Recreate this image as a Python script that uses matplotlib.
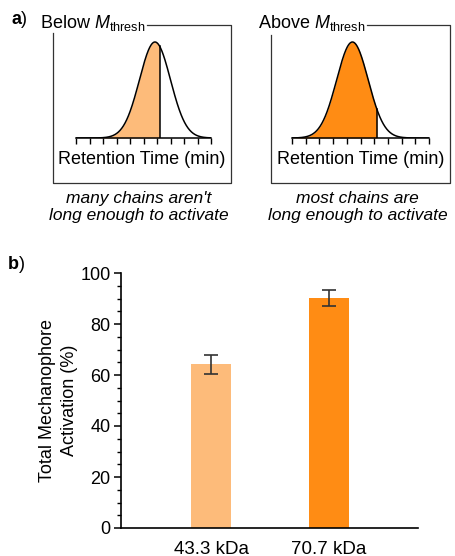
import numpy as np
import matplotlib
matplotlib.use("Agg")
import matplotlib.pyplot as plt
from matplotlib.lines import Line2D

plt.rcParams['font.family'] = ['Liberation Sans', 'DejaVu Sans']
plt.rcParams['mathtext.fontset'] = 'custom'
plt.rcParams['mathtext.rm'] = 'Liberation Sans'
plt.rcParams['mathtext.it'] = 'Liberation Sans:italic'

# schematic GPC traces: peak retention time, width, cutoff at M_thresh
peak_centers = [5.85, 4.41]
peak_widths = [1.15, 1.15]
thresh_time = 6.2
panel_titles = ['Below $M_{\\rm thresh}$', 'Above $M_{\\rm thresh}$']
captions = ["many chains aren't\nlong enough to activate",
            "most chains are\nlong enough to activate"]

# bar chart data
samples = ['43.3 kDa', '70.7 kDa']
activation = [64.2, 90.2]
activation_err = [3.8, 3.0]

light_orange = '#fdbb7a'
dark_orange = '#ff8c14'
fills = [light_orange, dark_orange]

W, H = 455, 556
fig = plt.figure(figsize=(W / 100, H / 100), dpi=100)


def box(x0, y0, x1, y1):
    # pixel rectangle (top-left origin) -> figure fraction
    return [x0 / W, 1 - y1 / H, (x1 - x0) / W, (y1 - y0) / H]


def fline(xs, ys, **kw):
    fig.add_artist(Line2D([x / W for x in xs], [1 - y / H for y in ys],
                          transform=fig.transFigure, **kw))


def ftext(x, y, s, **kw):
    fig.text(x / W, 1 - y / H, s, **kw)


# ---- panel a ----
ftext(11, 20, 'a', fontsize=13, fontweight='bold', va='center')
ftext(21, 20, ')', fontsize=13, va='center')

frames = [(53, 231, 147, 33), (271, 450, 367, 35)]
curve_x = [(76, 211), (292, 429)]
title_x = [40, 258]
for i in range(2):
    left, right, top_start, side_start = frames[i]
    fline([left, left, right, right, top_start],
          [side_start, 183, 183, 25, 25], color='#333333', lw=0.9)
    ftext(title_x[i], 28, panel_titles[i], fontsize=13, va='baseline')

    ax = fig.add_axes(box(curve_x[i][0], 40, curve_x[i][1], 138))
    x = np.linspace(0, 10, 400)
    y = np.exp(-0.5 * ((x - peak_centers[i]) / peak_widths[i]) ** 2)
    ax.plot(x, y, color='black', lw=1.1, zorder=3)
    m = x <= thresh_time
    ax.fill_between(x[m], 0, y[m], color=fills[i], lw=0)
    y_cut = np.exp(-0.5 * ((thresh_time - peak_centers[i]) / peak_widths[i]) ** 2)
    ax.plot([thresh_time, thresh_time], [0, y_cut], color='black', lw=1.1)
    ax.set_xlim(0, 10)
    ax.set_ylim(0, 98 / 96)
    for s in ['top', 'left', 'right']:
        ax.spines[s].set_visible(False)
    ax.spines['bottom'].set_linewidth(1.1)
    ax.set_xticks(np.arange(0, 11))
    ax.set_xticklabels([])
    ax.set_yticks([])
    ax.tick_params(axis='x', direction='out', length=4, width=1.0)
    ax.patch.set_alpha(0)

    cx = (left + right) / 2
    ftext(cx, 160, 'Retention Time (min)', fontsize=13, ha='center', va='center')
    ftext(cx - 3, 207, captions[i], fontsize=12.5, style='italic',
          ha='center', va='center', linespacing=1.1)

# ---- panel b ----
ftext(8, 265, 'b', fontsize=13, fontweight='bold', va='center')
ftext(19, 265, ')', fontsize=13, va='center')

axb = fig.add_axes(box(121, 273, 418, 528))
pos = np.arange(len(samples))
axb.bar(pos, activation, width=0.34, color=fills, edgecolor='none')
axb.errorbar(pos, activation, yerr=activation_err, fmt='none',
             ecolor='#333333', elinewidth=1.2, capsize=5, capthick=1.2)
axb.set_xlim(-0.763, 1.754)
axb.set_ylim(0, 100)
axb.set_yticks(np.arange(0, 101, 20))
axb.set_yticks(np.arange(0, 101, 5), minor=True)
axb.set_xticks(pos)
axb.set_xticklabels(samples)
axb.tick_params(axis='y', which='major', length=5, width=1.1, labelsize=13, pad=2.5)
axb.tick_params(axis='y', which='minor', length=3, width=1.0)
axb.tick_params(axis='x', length=0, labelsize=13.5, pad=9)
for s in ['top', 'right']:
    axb.spines[s].set_visible(False)
for s in ['left', 'bottom']:
    axb.spines[s].set_linewidth(1.2)
axb.set_ylabel('Total Mechanophore\nActivation (%)', fontsize=13, labelpad=1.5,
               linespacing=1.4)

fig.savefig('out.png', dpi=100)
